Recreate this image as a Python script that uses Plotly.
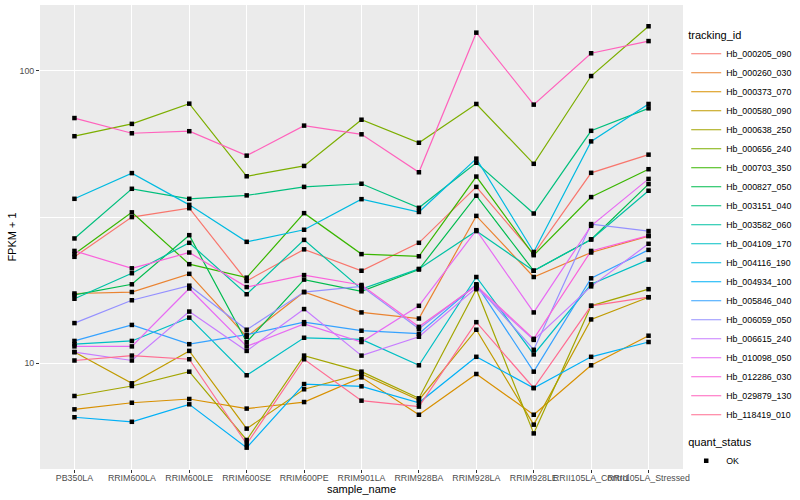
import plotly.graph_objects as go

samples = ["PB350LA", "RRIM600LA", "RRIM600LE", "RRIM600SE", "RRIM600PE", "RRIM901LA",
           "RRIM928BA", "RRIM928LA", "RRIM928LE", "RRII105LA_Control", "RRII105LA_Stressed"]

tracking_ids = ["Hb_000205_090", "Hb_000260_030", "Hb_000373_070", "Hb_000580_090",
                "Hb_000638_250", "Hb_000656_240", "Hb_000703_350", "Hb_000827_050",
                "Hb_003151_040", "Hb_003582_060", "Hb_004109_170", "Hb_004116_190",
                "Hb_004934_100", "Hb_005846_040", "Hb_006059_050", "Hb_006615_240",
                "Hb_010098_050", "Hb_012286_030", "Hb_029879_130", "Hb_118419_010"]

colors = ["#F8766D", "#EA8331", "#D89000", "#C09B00", "#A3A500", "#7CAE00", "#39B600",
          "#00BB4E", "#00BF7D", "#00C1A3", "#00BFC4", "#00BAE0", "#00B0F6", "#35A2FF",
          "#9590FF", "#C77CFF", "#E76BF3", "#FA62DB", "#FF62BC", "#FF6C91"]

# FPKM + 1 values, one list per gene, in sample order
hb_000205_090 = [23.1, 31.6, 33.9, 19.1, 24.5, 20.7, 25.8, 40.1, 23.6, 44.8, 51.7]
hb_000260_030 = [17.3, 17.5, 20.2, 12.3, 17.5, 14.9, 14.2, 31.9, 19.7, 23.9, 27.2]
hb_000373_070 = [6.94, 7.31, 7.53, 6.98, 7.35, 8.93, 6.65, 9.17, 6.65, 9.82, 12.4]
hb_000580_090 = [10.9, 8.52, 11.0, 5.96, 8.13, 9.17, 7.47, 13.0, 6.15, 14.1, 16.8]
hb_000638_250 = [7.71, 8.34, 9.34, 5.45, 10.6, 9.34, 7.57, 17.9, 5.74, 15.7, 17.9]
hb_000656_240 = [59.8, 65.9, 77.3, 43.6, 47.3, 68.1, 56.8, 77.1, 48.1, 96.1, 142.3]
hb_000703_350 = [23.6, 32.8, 21.8, 19.6, 32.6, 23.6, 23.2, 43.5, 23.4, 37.0, 46.1]
hb_000827_050 = [17.1, 18.6, 27.4, 11.8, 19.3, 17.6, 20.9, 37.4, 20.7, 26.5, 41.0]
hb_003151_040 = [26.7, 39.5, 36.5, 37.5, 40.1, 41.1, 34.0, 48.5, 32.5, 62.4, 74.5]
hb_003582_060 = [16.6, 20.3, 25.8, 17.2, 26.4, 17.9, 21.0, 28.3, 20.7, 26.5, 38.9]
hb_004109_170 = [11.6, 11.9, 14.3, 9.08, 12.2, 12.05, 9.82, 19.7, 10.7, 18.6, 22.6]
hb_004116_190 = [36.5, 44.7, 34.8, 26.0, 28.6, 36.4, 32.9, 50.1, 24.0, 57.4, 77.1]
hb_004934_100 = [6.52, 6.29, 7.22, 5.13, 8.47, 8.32, 7.31, 10.5, 8.21, 10.5, 11.8]
hb_005846_040 = [11.9, 13.5, 11.6, 12.5, 13.8, 12.9, 12.6, 18.6, 9.34, 19.5, 24.4]
hb_006059_050 = [13.7, 16.4, 18.4, 13.0, 17.5, 18.3, 13.1, 18.5, 11.1, 29.9, 28.3]
hb_006615_240 = [10.9, 10.2, 15.0, 11.0, 15.3, 10.6, 12.3, 18.1, 12.0, 18.3, 25.6]
hb_010098_050 = [11.4, 11.4, 18.0, 11.4, 13.6, 11.8, 15.7, 28.5, 14.9, 29.5, 42.7]
hb_012286_030 = [24.2, 21.1, 23.9, 18.2, 20.0, 18.5, 13.3, 18.4, 12.1, 24.2, 27.3]
hb_029879_130 = [69.0, 61.2, 62.2, 51.3, 65.0, 60.7, 45.0, 135.3, 76.7, 115.0, 126.6]
hb_118419_010 = [10.2, 10.6, 10.3, 5.28, 10.3, 7.43, 7.09, 13.8, 8.21, 15.7, 16.8]

series = [hb_000205_090, hb_000260_030, hb_000373_070, hb_000580_090, hb_000638_250,
          hb_000656_240, hb_000703_350, hb_000827_050, hb_003151_040, hb_003582_060,
          hb_004109_170, hb_004116_190, hb_004934_100, hb_005846_040, hb_006059_050,
          hb_006615_240, hb_010098_050, hb_012286_030, hb_029879_130, hb_118419_010]

FONT = "Liberation Sans, Arial, sans-serif"

fig = go.Figure()
for name, col, vals in zip(tracking_ids, colors, series):
    fig.add_trace(go.Scatter(
        x=samples, y=vals, mode="lines", name=name,
        line=dict(color=col, width=1.2), legend="legend",
    ))

all_x = [s for vals in series for s in samples]
all_y = [v for vals in series for v in vals]
fig.add_trace(go.Scatter(
    x=all_x, y=all_y, mode="markers", name="OK", legend="legend2",
    marker=dict(symbol="square", size=4.5, color="black"),
))

fig.update_layout(
    width=800, height=500,
    margin=dict(l=40, r=117, t=5, b=31, autoexpand=False),
    paper_bgcolor="white", plot_bgcolor="#EBEBEB",
    font=dict(family=FONT, size=11, color="black"),
    showlegend=True,
    legend=dict(
        title=dict(text="tracking_id", font=dict(size=11, color="black")),
        font=dict(size=8.8, color="black"),
        x=1.005, xanchor="left", y=0.957, yanchor="top",
        itemwidth=30, bgcolor="rgba(0,0,0,0)", tracegroupgap=0,
    ),
    legend2=dict(
        title=dict(text="quant_status", font=dict(size=11, color="black")),
        font=dict(size=8.8, color="black"),
        x=1.005, xanchor="left", y=0.08, yanchor="top",
        itemwidth=30, bgcolor="rgba(0,0,0,0)",
    ),
)

fig.update_xaxes(
    type="category", categoryorder="array", categoryarray=samples,
    range=[-0.6, 10.6], tickangle=0,
    showgrid=True, gridcolor="white", gridwidth=1.1,
    ticks="outside", ticklen=3, tickcolor="#333333", tickwidth=1,
    ticklabelstandoff=-3,
    tickfont=dict(size=8.8, color="#4D4D4D", family=FONT),
    title=dict(text="sample_name", font=dict(size=11, color="black"), standoff=0),
    zeroline=False, showline=False, automargin=False,
)

fig.update_yaxes(
    type="log", range=[0.637, 2.226],
    tickmode="array", tickvals=[10, 100], ticktext=["10", "100"],
    showgrid=True, gridcolor="white", gridwidth=1.1,
    minor=dict(tickmode="array", tickvals=[10 ** 1.5], showgrid=True,
               gridcolor="white", gridwidth=0.55, ticks=""),
    ticks="outside", ticklen=3, tickcolor="#333333", tickwidth=1,
    tickfont=dict(size=8.8, color="#4D4D4D", family=FONT),
    title=dict(text="FPKM + 1", font=dict(size=11, color="black"), standoff=0),
    zeroline=False, showline=False, automargin=False,
)

fig.write_html("out.html", config={"displayModeBar": False},
               post_script="document.body.style.margin='0px';")
